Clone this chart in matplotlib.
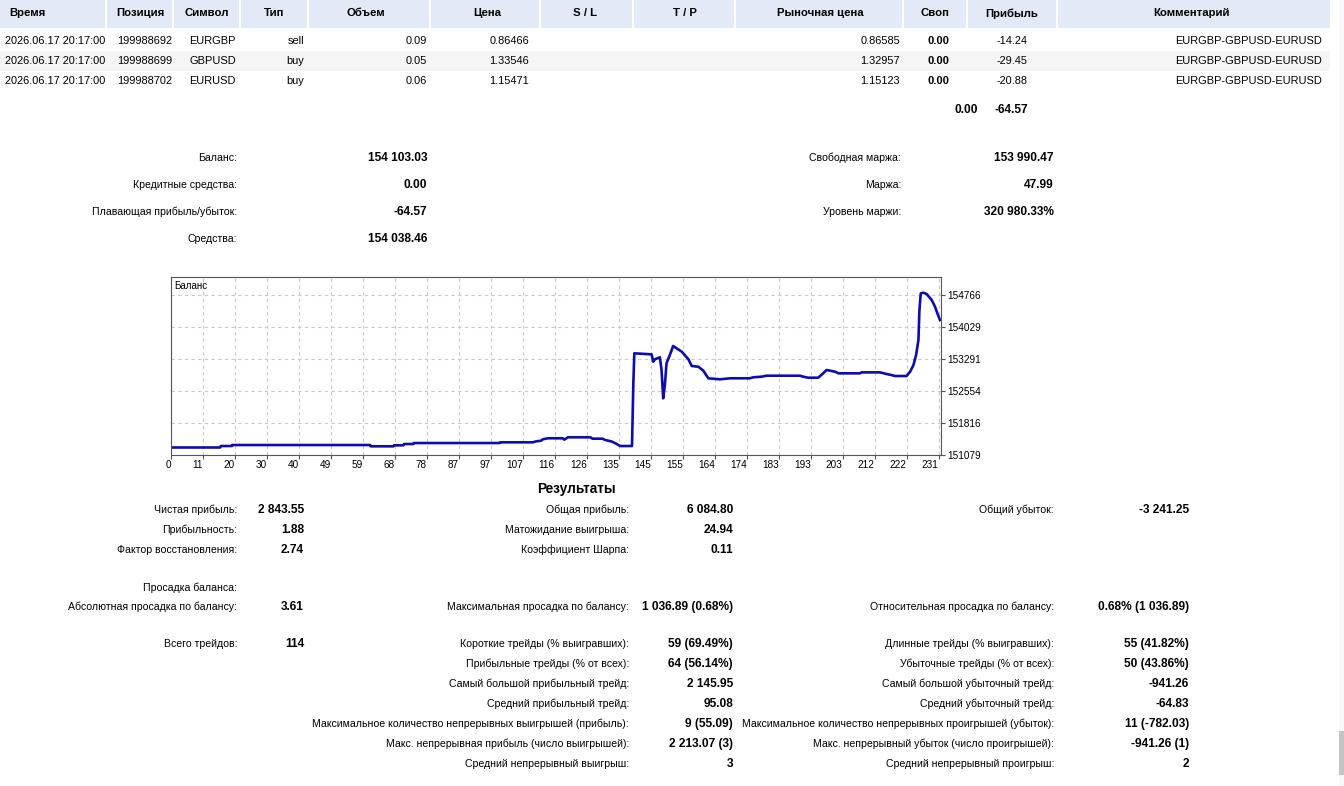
import numpy as np
import matplotlib
matplotlib.use("Agg")
import matplotlib.pyplot as plt
import matplotlib.transforms as mtrans
from matplotlib.patches import Rectangle

plt.rcParams['font.family'] = ['Liberation Sans', 'DejaVu Sans']

# ---- open positions table ----
header_labels = ["Время", "Позиция", "Символ", "Тип", "Объем", "Цена", "S / L", "T / P",
                 "Рыночная цена", "Своп", "Прибыль", "Комментарий"]
order_time = ["2026.06.17 20:17:00", "2026.06.17 20:17:00", "2026.06.17 20:17:00"]
order_ticket = ["199988692", "199988699", "199988702"]
order_symbol = ["EURGBP", "GBPUSD", "EURUSD"]
order_type = ["sell", "buy", "buy"]
order_volume = [0.09, 0.05, 0.06]
order_price = [0.86466, 1.33546, 1.15471]
order_market = [0.86585, 1.32957, 1.15123]
order_swap = [0.00, 0.00, 0.00]
order_profit = [-14.24, -29.45, -20.88]
order_comment = ["EURGBP-GBPUSD-EURUSD", "EURGBP-GBPUSD-EURUSD", "EURGBP-GBPUSD-EURUSD"]

# ---- account summary ----
acc_left_labels = ["Баланс:", "Кредитные средства:", "Плавающая прибыль/убыток:", "Средства:"]
acc_left_values = ["154 103.03", "0.00", "-64.57", "154 038.46"]
acc_right_labels = ["Свободная маржа:", "Маржа:", "Уровень маржи:"]
acc_right_values = ["153 990.47", "47.99", "320 980.33%"]

# ---- balance curve ----
bal_x = [0, 14.8, 15.0, 18.3, 18.5, 60, 60.2, 67, 67.2, 70, 70.2, 73, 73.2, 99, 99.2, 109,
         110, 111.5, 112, 113.6, 118, 118.5, 119.6, 126.3, 127, 130, 130.8, 132.8, 134.3,
         135.3, 138.9, 139.1, 139.3, 139.6, 144.8, 145.3, 145.8, 147.3, 147.8, 148.3, 148.8,
         149.3, 150.3, 151.3, 153.9, 155.9, 156.9, 158.9, 160.4, 161.9, 165.4, 168.4, 174.4,
         175.4, 177.9, 179.4, 189.5, 190.5, 192.0, 195, 196.5, 197.5, 198.5, 200.1, 201.1,
         207.6, 208.1, 213.6, 215.6, 217.1, 218.1, 221.6, 222.7, 223.7, 224.5, 225.2, 225.5,
         225.9, 226.7, 227.7, 229.2, 230.2, 230.9, 231.7]
bal_y = [151259, 151259, 151293, 151293, 151316, 151316, 151286, 151286, 151309, 151309,
         151339, 151339, 151362, 151362, 151378, 151378, 151400, 151415, 151448, 151471,
         151471, 151440, 151494, 151494, 151462, 151462, 151432, 151396, 151339, 151293,
         151293, 152007, 152738, 153429, 153405, 153236, 153291, 153337, 153044, 152392,
         152698, 153199, 153390, 153597, 153466, 153291, 153137, 153120, 153028, 152853,
         152830, 152853, 152853, 152876, 152890, 152913, 152913, 152890, 152867, 152867,
         152968, 153044, 153030, 153005, 152968, 152968, 152990, 152990, 152952, 152929,
         152906, 152906, 153005, 153159, 153390, 153735, 154426, 154811, 154826, 154795,
         154657, 154503, 154351, 154197]
bal_yticks = [151079, 151816, 152554, 153291, 154029, 154766]
bal_xtick_labels = ["0", "11", "20", "30", "40", "49", "59", "68", "78", "87", "97", "107",
                    "116", "126", "135", "145", "155", "164", "174", "183", "193", "203",
                    "212", "222", "231"]

# ---- results ----
res_col1 = [("Чистая прибыль:", "2 843.55"), ("Прибыльность:", "1.88"),
            ("Фактор восстановления:", "2.74"), ("Просадка баланса:", ""),
            ("Абсолютная просадка по балансу:", "3.61"), ("Всего трейдов:", "114")]
res_col2 = [("Общая прибыль:", "6 084.80"), ("Матожидание выигрыша:", "24.94"),
            ("Коэффициент Шарпа:", "0.11"), ("", ""),
            ("Максимальная просадка по балансу:", "1 036.89 (0.68%)"),
            ("Короткие трейды (% выигравших):", "59 (69.49%)"),
            ("Прибыльные трейды (% от всех):", "64 (56.14%)"),
            ("Самый большой прибыльный трейд:", "2 145.95"),
            ("Средний прибыльный трейд:", "95.08"),
            ("Максимальное количество непрерывных выигрышей (прибыль):", "9 (55.09)"),
            ("Макс. непрерывная прибыль (число выигрышей):", "2 213.07 (3)"),
            ("Средний непрерывный выигрыш:", "3")]
res_col3 = [("Общий убыток:", "-3 241.25"), ("", ""), ("", ""), ("", ""),
            ("Относительная просадка по балансу:", "0.68% (1 036.89)"),
            ("Длинные трейды (% выигравших):", "55 (41.82%)"),
            ("Убыточные трейды (% от всех):", "50 (43.86%)"),
            ("Самый большой убыточный трейд:", "-941.26"),
            ("Средний убыточный трейд:", "-64.83"),
            ("Максимальное количество непрерывных проигрышей (убыток):", "11 (-782.03)"),
            ("Макс. непрерывный убыток (число проигрышей):", "-941.26 (1)"),
            ("Средний непрерывный проигрыш:", "2")]


def money(v, nd=2):
    return f"{v:,.{nd}f}".replace(",", " ")


W, H = 1344, 786
fig = plt.figure(figsize=(W / 100, H / 100), dpi=100)
fig.patch.set_facecolor("white")
bg = fig.add_axes([0, 0, 1, 1])
bg.set_xlim(0, W)
bg.set_ylim(H, 0)
bg.axis("off")

FS = 7.6
FB = 8.6

# header strip
bg.add_patch(Rectangle((0, 0), 1330, 28, color="#e1eaf6", lw=0))
for sx in [106, 173, 240, 308, 430, 540, 633, 735, 903, 967, 1057]:
    bg.plot([sx, sx], [0, 28], color="white", lw=1.5)
head_x = [27, 140, 207, 274, 366, 487, 585, 685, 820, 935, 1012, 1191]
for hx, lab in zip(head_x, header_labels):
    bg.text(hx, 13.5, lab, ha="center", va="center", fontsize=8.2, fontweight="bold")

# zebra row
bg.add_patch(Rectangle((0, 51), 1330, 20, color="#f5f5f5", lw=0))

row_y = [41, 61, 81]
for i, ry in enumerate(row_y):
    bg.text(5, ry, order_time[i], ha="left", va="center", fontsize=7.9)
    bg.text(117, ry, order_ticket[i], ha="left", va="center", fontsize=7.9)
    bg.text(236, ry, order_symbol[i], ha="right", va="center", fontsize=7.9)
    bg.text(304, ry, order_type[i], ha="right", va="center", fontsize=7.9)
    bg.text(427, ry, money(order_volume[i]), ha="right", va="center", fontsize=7.9)
    bg.text(529, ry, f"{order_price[i]:.5f}", ha="right", va="center", fontsize=7.9)
    bg.text(900, ry, f"{order_market[i]:.5f}", ha="right", va="center", fontsize=7.9)
    bg.text(949, ry, money(order_swap[i]), ha="right", va="center", fontsize=8, fontweight="bold")
    bg.text(1028, ry, money(order_profit[i]), ha="right", va="center", fontsize=7.9)
    bg.text(1322, ry, order_comment[i], ha="right", va="center", fontsize=7.9)

bg.text(978, 110, money(sum(order_swap)), ha="right", va="center", fontsize=FB, fontweight="bold")
bg.text(1028, 110, money(sum(order_profit)), ha="right", va="center", fontsize=FB, fontweight="bold")

# account block
for i, (lab, val) in enumerate(zip(acc_left_labels, acc_left_values)):
    yy = 158 + 27 * i
    bg.text(237, yy, lab, ha="right", va="center", fontsize=FS)
    bg.text(427, yy, val, ha="right", va="center", fontsize=FB, fontweight="bold")
for i, (lab, val) in enumerate(zip(acc_right_labels, acc_right_values)):
    yy = 158 + 27 * i
    bg.text(901, yy, lab, ha="right", va="center", fontsize=FS)
    bg.text(1054, yy, val, ha="right", va="center", fontsize=FB, fontweight="bold")

# results block
bg.text(576, 489, "Результаты", ha="center", va="center", fontsize=9.8, fontweight="bold")
res_rows_y = [510, 530, 550, 588, 607, 644, 664, 684, 704, 724, 744, 764]
for i, (lab, val) in enumerate(res_col1):
    bg.text(237, res_rows_y[i], lab, ha="right", va="center", fontsize=FS)
    bg.text(304, res_rows_y[i], val, ha="right", va="center", fontsize=FB, fontweight="bold")
for i, (lab, val) in enumerate(res_col2):
    bg.text(629, res_rows_y[i], lab, ha="right", va="center", fontsize=FS)
    bg.text(733, res_rows_y[i], val, ha="right", va="center", fontsize=FB, fontweight="bold")
for i, (lab, val) in enumerate(res_col3):
    bg.text(1054, res_rows_y[i], lab, ha="right", va="center", fontsize=FS)
    bg.text(1189, res_rows_y[i], val, ha="right", va="center", fontsize=FB, fontweight="bold")

# scrollbar
bg.add_patch(Rectangle((1339, 0), 5, H, color="#f7f7f7", lw=0))
bg.add_patch(Rectangle((1339, 731), 5, 44, color="#c4c4c4", lw=0))

# ---- balance chart ----
left, right, top, bottom = 171, 941, 276.7, 455.3
ax = fig.add_axes([left / W, 1 - bottom / H, (right - left) / W, (bottom - top) / H])
ax.plot(bal_x, bal_y, color="#0c0cb0", lw=1.9, solid_joinstyle="round")
ax.set_xlim(0, 232)
ax.set_ylim(151079, 151079 + (bottom - top) / 32 * 737.4)
ax.set_xticks(np.linspace(0, 231.3, len(bal_xtick_labels)))
ax.set_xticklabels(bal_xtick_labels, fontsize=7.2, ha="right")
off = mtrans.ScaledTranslation(3 / 100, 0, fig.dpi_scale_trans)
for t in ax.get_xticklabels():
    t.set_transform(t.get_transform() + off)
ax.yaxis.tick_right()
ax.set_yticks(bal_yticks)
ax.set_yticklabels([str(v) for v in bal_yticks], fontsize=7.2)
ax.tick_params(axis="x", length=3, pad=0.5, color="#555555")
ax.tick_params(axis="y", length=3, pad=1.5, color="#555555")
ax.grid(True, color="#c8c8c8", linestyle=(0, (3, 3)), lw=0.8)
for sp in ax.spines.values():
    sp.set_color("#555555")
    sp.set_linewidth(0.8)
ax.text(0.004, 0.95, "Баланс", transform=ax.transAxes, ha="left", va="center", fontsize=7)

fig.savefig("out.png", dpi=100, facecolor="white")
